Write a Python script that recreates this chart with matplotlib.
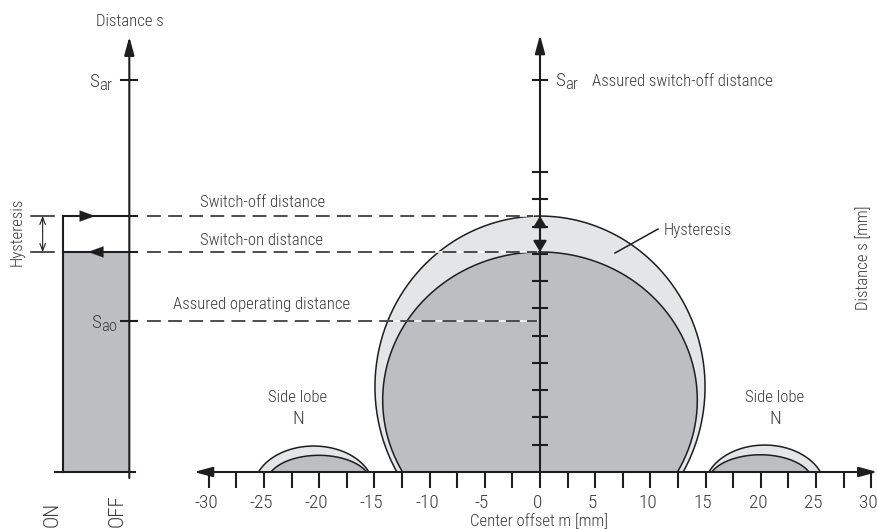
import numpy as np
import matplotlib
matplotlib.use('Agg')
import matplotlib.pyplot as plt
from matplotlib.patches import Rectangle
from matplotlib import font_manager as fm

plt.rcParams['lines.scale_dashes'] = False

# ---------------- data ----------------
x_ticks = np.arange(-30, 30.01, 2.5)
x_label_pos = [-30, -25, -20, -15, -10, -5, 0, 5, 10, 15, 20, 25, 30]
x_label_txt = ['-30', '-25', '-20', '-15', '-10', '-5', '0', '5', '10', '15', '20', '25', '30']
s_ticks = np.arange(2.5, 27.51, 2.5)

s_ar = 35.93          # assured switch-off distance
s_switch_off = 23.46  # switch-off distance
s_switch_on = 20.17   # switch-on distance
s_ao = 13.84          # assured operating distance

# main lobe (ellipse cut by the axis): center x, center y, half width
main_outer_cx, main_outer_cy, main_outer_a = 0.0, 7.8, 14.95
main_inner_cx, main_inner_cy, main_inner_a = 0.0, 6.6, 14.25

# side lobes: start, end, height
side_outer_left = [-25.5, -15.5, 2.38]
side_inner_left = [-24.37, -15.7, 1.53]
side_outer_right = [15.3, 25.4, 2.47]
side_inner_right = [15.55, 24.37, 1.58]

# ---------------- font ----------------
def pick_font():
    fl = fm.fontManager.ttflist
    for want in ['Liberation Sans Narrow', 'Roboto Condensed', 'Open Sans Condensed']:
        for wt in (300, 'light', 400, 'normal', 'regular'):
            for f in fl:
                if f.name == want and f.style == 'normal' and f.weight == wt:
                    return f.fname
    for f in fl:
        if f.fname.endswith('DejaVuSansCondensed.ttf'):
            return f.fname
    return None


font_path = pick_font()

# ---------------- style ----------------
LINE = '#1e1e1e'
TXT = '#3a3a3a'
LIGHT = '#e4e5e7'
MID = '#bdbec1'
LW = 1.1
AXLW = 1.5

fig = plt.figure(figsize=(8.78, 5.29), dpi=100)
ax = fig.add_axes([0, 0, 1, 1])
ax.set_xlim(-540 / 11.04, 338 / 11.04)
ax.set_ylim(-57 / 10.91, 472 / 10.91)
ax.axis('off')
renderer = fig.canvas.get_renderer()


def fprop(size):
    if font_path:
        return fm.FontProperties(fname=font_path, size=size)
    return fm.FontProperties(family='DejaVu Sans', stretch='condensed', size=size)


# size chosen so that a reference label has the reference width (177 px)
probe = ax.text(0, 0, 'Assured switch-off distance', fontproperties=fprop(12))
w12 = probe.get_window_extent(renderer).width
probe.remove()
FS = 12 * 180.0 / w12
FP = fprop(FS)
FP_TICK = fprop(FS * 1.15)
FP_BIG = fprop(FS * 1.25)


def ellipse_lobe(cx, cy, a, b, n=400):
    t0 = np.arcsin(np.clip(-cy / b, -1, 1))
    t = np.linspace(t0, np.pi - t0, n)
    return cx + a * np.cos(t), cy + b * np.sin(t)


def segment_lobe(x1, x2, h, k=0.92):
    c = (x2 - x1) / 2
    xc = (x1 + x2) / 2
    a = c / k
    s = np.sqrt(1 - k * k)
    b = h / (1 - s)
    return ellipse_lobe(xc, -b * s, a, b)


def draw_lobe(xs, ys, color, z):
    ax.fill(xs, ys, color=color, lw=0, zorder=z)
    ax.plot(xs, ys, color=LINE, lw=LW, zorder=z + 0.5, solid_capstyle='butt')


# main lobes
xo, yo = ellipse_lobe(main_outer_cx, main_outer_cy, main_outer_a, s_switch_off - main_outer_cy)
draw_lobe(xo, yo, LIGHT, 1)
xi, yi = ellipse_lobe(main_inner_cx, main_inner_cy, main_inner_a, s_switch_on - main_inner_cy)
draw_lobe(xi, yi, MID, 2)

# side lobes
for outer, inner in [(side_outer_left, side_inner_left), (side_outer_right, side_inner_right)]:
    draw_lobe(*segment_lobe(*outer), LIGHT, 1)
    draw_lobe(*segment_lobe(*inner), MID, 2)

# left switching diagram
left_ax_x = -37.2
bar_left = -43.18
ax.add_patch(Rectangle((bar_left, 0), left_ax_x - bar_left, s_switch_on, color=MID, lw=0, zorder=1))
ax.plot([bar_left, bar_left], [0, s_switch_off], color=LINE, lw=AXLW, zorder=4)
for lev in [s_switch_off, s_switch_on]:
    ax.plot([bar_left, -36.5], [lev, lev], color=LINE, lw=AXLW, zorder=4)
ax.plot([-43.9, -36.7], [0, 0], color=LINE, lw=AXLW, zorder=4)
for lev in [s_ar, s_ao]:
    ax.plot([-37.95, -36.5], [lev, lev], color=LINE, lw=AXLW, zorder=4)

arrow_axis = dict(arrowstyle='-|>,head_length=0.55,head_width=0.15', lw=AXLW, color=LINE,
                  shrinkA=0, shrinkB=0, mutation_scale=20)
ax.annotate('', xy=(left_ax_x, 39.9), xytext=(left_ax_x, -0.55), arrowprops=arrow_axis, zorder=5)

# hysteresis loop arrows
tri = dict(arrowstyle='-|>,head_length=0.55,head_width=0.2', lw=0.1, color=LINE,
           shrinkA=0, shrinkB=0, mutation_scale=20)
ax.annotate('', xy=(-40.3, s_switch_off), xytext=(-41.5, s_switch_off), arrowprops=tri, zorder=5)
ax.annotate('', xy=(-40.94, s_switch_on), xytext=(-39.7, s_switch_on), arrowprops=tri, zorder=5)

# hysteresis dimension on the left
for lev in [s_switch_off, s_switch_on]:
    ax.plot([-46.1, -44.0], [lev, lev], color=LINE, lw=LW, zorder=4)
ax.annotate('', xy=(-45.05, s_switch_off), xytext=(-45.05, s_switch_on),
            arrowprops=dict(arrowstyle='<->,head_length=0.25,head_width=0.1', lw=0.8, color=LINE,
                            shrinkA=0, shrinkB=0, mutation_scale=20), zorder=4)

# dashed guide lines
for lev, x_end in [(s_switch_off, -0.6), (s_switch_on, -0.3), (s_ao, -0.3)]:
    ax.plot([-35.6, x_end], [lev, lev], color='white', lw=LW, zorder=3)
    ax.plot([-35.6, x_end], [lev, lev], color=LINE, lw=LW, dashes=(10, 5.2), zorder=3.5)

# main horizontal axis
ax.annotate('', xy=(30.55, 0), xytext=(-31.34, 0),
            arrowprops=dict(arrowstyle='<|-|>,head_length=0.55,head_width=0.15', lw=AXLW, color=LINE,
                            shrinkA=0, shrinkB=0, mutation_scale=20), zorder=5)
for xt in x_ticks:
    ax.plot([xt, xt], [0, -1.47], color=LINE, lw=AXLW, zorder=5, solid_capstyle='butt')
for xp, lab in zip(x_label_pos, x_label_txt):
    ax.text(xp - 0.25, -3.3, lab, ha='center', va='baseline', fontproperties=FP_TICK, color=TXT)

# main vertical axis
ax.annotate('', xy=(0, 40.05), xytext=(0, 0), arrowprops=arrow_axis, zorder=5)
for st in list(s_ticks) + [s_ar]:
    ax.plot([-0.72, 0.72], [st, st], color=LINE, lw=AXLW, zorder=5, solid_capstyle='butt')
ax.annotate('', xy=(0, s_switch_off), xytext=(0, s_switch_on),
            arrowprops=dict(arrowstyle='<|-|>,head_length=0.33,head_width=0.2', lw=AXLW, color=LINE,
                            shrinkA=0, shrinkB=0, mutation_scale=20), zorder=6)

# hysteresis leader
ax.plot([6.79, 10.69], [20.07, 22.27], color=LINE, lw=LW, zorder=5)


# ---------------- texts ----------------
def txt(x, y, s, fp=FP, **kw):
    kw.setdefault('va', 'baseline')
    kw.setdefault('ha', 'left')
    return ax.text(x, y, s, fontproperties=fp, color=TXT, **kw)


def s_label(x, y, sub):
    t = txt(x, y, 'S', fp=FP_TICK)
    w = t.get_window_extent(renderer).width
    ax.annotate(sub, xy=(x, y), xytext=(w * 72 / 100.0 + 0.2, -2.3), textcoords='offset points',
                ha='left', va='baseline', fontproperties=FP, color=TXT)


s_label(-40.81, s_ar - 0.64, 'ar')
s_label(-40.67, s_ao - 0.6, 'ao')
s_label(1.36, s_ar - 0.55, 'ar')

txt(-37.14, 40.88, 'Distance s', ha='center')
txt(4.71, 35.38, 'Assured switch-off distance')
txt(-30.8, 24.29, 'Switch-off distance')
txt(-30.8, 20.81, 'Switch-on distance')
txt(-33.24, 14.94, 'Assured operating distance')
txt(11.23, 21.72, 'Hysteresis')
for cx in [-21.92, 21.29]:
    txt(cx, 6.42, 'Side lobe', ha='center')
    txt(cx, 4.37, 'N', ha='center', fp=FP_TICK)
txt(-0.1, -4.95, 'Center offset m [mm]', ha='center')
txt(29.26, 19.6, 'Distance s [mm]', ha='center', va='center', rotation=90)
txt(-47.4, 22.0, 'Hysteresis', ha='center', va='center', rotation=90)
txt(-44.16, -5.04, 'ON', ha='center', va='bottom', rotation=90, fp=FP_BIG)
txt(-38.3, -5.04, 'OFF', ha='center', va='bottom', rotation=90, fp=FP_BIG)

fig.savefig('out.png', dpi=100)
